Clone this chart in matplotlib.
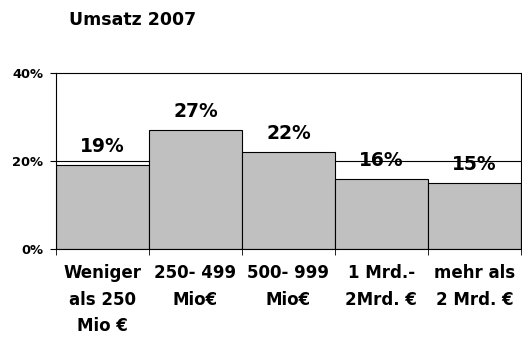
import matplotlib.pyplot as plt
import numpy as np

plt.rcParams['font.family'] = ['DejaVu Sans']

# revenue classes and share of companies
categories = ['Weniger\nals 250\nMio €', '250- 499\nMio€', '500- 999\nMio€',
              '1 Mrd.-\n2Mrd. €', 'mehr als\n2 Mrd. €']
shares = [19, 27, 22, 16, 15]
yticks = [0, 20, 40]

fig = plt.figure(figsize=(5.22, 3.38), dpi=100)
ax = fig.add_axes([0.107, 0.263, 0.891, 0.521])

x = np.arange(len(shares))
bars = ax.bar(x, shares, width=1.0, color='#c0c0c0', edgecolor='black',
              linewidth=0.8, zorder=2)
ax.axhline(20, color='black', linewidth=0.8, zorder=1)

for xi, v in zip(x, shares):
    ax.annotate(f'{v}%', (xi, v), xytext=(0, 6.5), textcoords='offset points',
                ha='center', va='bottom', fontsize=13.5, fontweight='bold')

ax.set_xlim(-0.5, len(shares) - 0.5)
ax.set_ylim(0, 40)
ax.set_yticks(yticks)
ax.set_yticklabels([f'{t}%' for t in yticks], fontsize=9.4, fontweight='bold')
ax.set_xticks(x)
ax.set_xticklabels(categories, fontsize=12, fontweight='bold',
                   linespacing=1.58)
ax.set_xticks(np.arange(len(shares) + 1) - 0.5, minor=True)
ax.tick_params(axis='x', which='major', length=0, pad=11)
ax.tick_params(axis='x', which='minor', length=4, direction='out')
ax.tick_params(axis='y', length=4, direction='out', pad=5)
for s in ax.spines.values():
    s.set_linewidth(0.8)

fig.text(0.132, 0.941, 'Umsatz 2007', fontsize=12.5, fontweight='bold',
         ha='left', va='center')

fig.savefig('out.png', dpi=100)
